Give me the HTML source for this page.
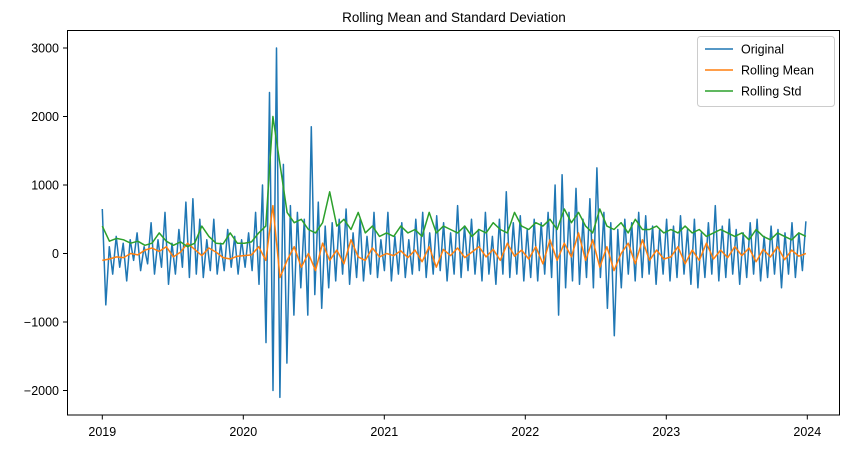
<!DOCTYPE html>
<html><head><meta charset="utf-8"><style>
body{margin:0;background:#fff;}
svg{font-family:"Liberation Sans","DejaVu Sans",sans-serif;}
</style></head><body>
<svg id="chart" width="851" height="449">
<text x="454" y="22" font-size="13.5" text-anchor="middle">Rolling Mean and Standard Deviation</text>
<g id="plot"></g>
<g id="axes"></g>
<rect x="67.5" y="30.5" width="772" height="384.5" fill="none" stroke="#000" stroke-width="1"/>
<g>
<rect x="697.5" y="36.5" width="137" height="70" rx="3" fill="#fff" fill-opacity="0.8" stroke="#ccc"/>
<line x1="705" x2="733" y1="49" y2="49" stroke="#1f77b4" stroke-width="1.5"/>
<text x="741" y="53.5" font-size="12.5">Original</text>
<line x1="705" x2="733" y1="70" y2="70" stroke="#ff7f0e" stroke-width="1.5"/>
<text x="741" y="74.5" font-size="12.5">Rolling Mean</text>
<line x1="705" x2="733" y1="91" y2="91" stroke="#2ca02c" stroke-width="1.5"/>
<text x="741" y="95.5" font-size="12.5">Rolling Std</text>
</g>
</svg>
<script>
const original=[650,-750,100,-300,250,-200,150,-400,200,-100,300,-250,100,-150,450,-300,200,-200,600,-450,150,-300,350,-200,750,-350,800,-300,500,-350,200,-250,500,-300,150,-250,350,-200,250,-300,200,
-200,300,-250,600,-450,1000,-1300,2350,-2000,3000,-2100,1300,-1600,700,-900,600,-500,500,-900,1850,-600,750,-800,400,-500,450,-400,500,-300,650,-450,300,-350,500,-400,250,-300,600,-350,200,-250,
600,-400,250,-300,450,-350,200,-300,500,-250,600,-350,300,-300,550,-250,450,-400,300,-300,700,-350,400,-250,500,-300,350,-400,600,-300,250,-450,500,-300,900,-350,450,-300,550,-400,350,
-350,500,-400,450,-300,600,-350,1000,-900,1150,-500,600,-400,950,-450,500,-350,800,-500,1250,-350,600,-800,450,-1200,350,-500,500,-300,450,-400,600,-350,550,-300,400,-450,350,-300,500,-400,
400,-350,550,-300,350,-450,500,-500,300,-350,450,-300,700,-400,400,-350,500,-300,350,-450,300,-350,450,-300,500,-400,250,-350,400,-300,350,-500,300,-300,450,-350,300,-250,470];
const rollingMean=[-100,-80,-50,-60,0,-20,50,80,30,100,-50,20,150,60,-30,80,20,-60,-80,-40,
-30,-20,100,-100,700,-350,-100,100,-200,0,-250,150,-100,50,-150,200,-50,-100,80,-50,
0,-30,40,-60,50,-120,100,-200,60,-30,80,-60,20,100,-50,60,-100,150,-40,50,
-80,100,-150,200,-100,150,-50,300,-100,200,-200,100,-250,0,150,-150,200,-100,50,-80,
-50,100,-150,50,-100,150,-80,50,-60,100,-30,80,-120,60,-50,100,-90,50,-40,0];
const rollingStd=[400,180,220,200,150,180,120,150,300,180,120,170,100,150,400,250,150,140,300,150,
150,170,300,400,2000,1300,600,450,500,350,300,450,900,400,500,350,600,300,400,250,
300,250,400,300,350,250,600,300,400,350,300,400,250,350,300,450,350,300,600,400,
350,450,400,500,350,650,450,600,400,300,650,400,350,450,300,500,350,350,400,300,
350,300,400,300,350,250,300,350,300,250,300,200,350,250,200,300,250,200,300,250];
const yTicks=[-2000,-1000,0,1000,2000,3000];
const xTicks=[2019,2020,2021,2022,2023,2024];

const NS="http://www.w3.org/2000/svg";
const X=yr=>102.3+(yr-2019)*141;
const Y=v=>253.5-v*0.0685;
const spanYears=4.99;
function draw(arr,color,name){
  const n=arr.length;
  const pts=arr.map((v,i)=>X(2019+i*spanYears/(n-1)).toFixed(1)+","+Y(v).toFixed(1)).join(" ");
  const p=document.createElementNS(NS,"polyline");
  p.setAttribute("points",pts);
  p.setAttribute("fill","none");
  p.setAttribute("stroke",color);
  p.setAttribute("stroke-width","1.5");
  p.setAttribute("stroke-linejoin","round");
  
  
  document.getElementById("plot").appendChild(p);
}
draw(original,"#1f77b4","original-series");
draw(rollingMean,"#ff7f0e","rolling-mean-series");
draw(rollingStd,"#2ca02c","rolling-std-series");

const ax=document.getElementById("axes");
yTicks.forEach(t=>{
  const l=document.createElementNS(NS,"line");
  l.setAttribute("x1",63);l.setAttribute("x2",67.5);
  l.setAttribute("y1",Y(t));l.setAttribute("y2",Y(t));
  l.setAttribute("stroke","#000");
  
  
  ax.appendChild(l);
  const tx=document.createElementNS(NS,"text");
  tx.setAttribute("x",59);tx.setAttribute("y",Y(t)+4.5);
  tx.setAttribute("font-size","12.5");tx.setAttribute("text-anchor","end");
  tx.textContent=t<0?"\u2212"+(-t):String(t);
  
  
  ax.appendChild(tx);
});
xTicks.forEach(t=>{
  const l=document.createElementNS(NS,"line");
  l.setAttribute("x1",X(t));l.setAttribute("x2",X(t));
  l.setAttribute("y1",415);l.setAttribute("y2",419.5);
  l.setAttribute("stroke","#000");
  
  
  ax.appendChild(l);
  const tx=document.createElementNS(NS,"text");
  tx.setAttribute("x",X(t));tx.setAttribute("y",436);
  tx.setAttribute("font-size","12.5");tx.setAttribute("text-anchor","middle");
  tx.textContent=String(t);
  
  
  ax.appendChild(tx);
});
</script>
</body></html>
